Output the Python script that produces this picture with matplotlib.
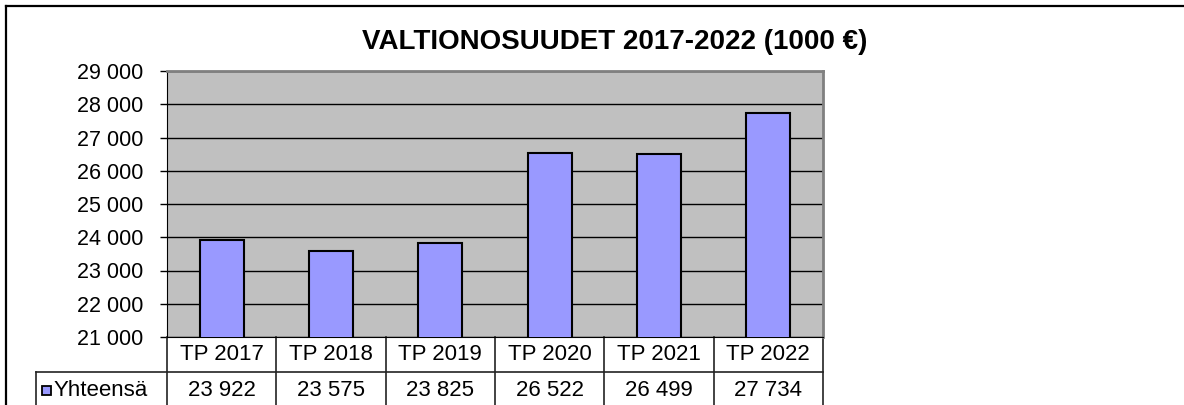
import matplotlib
matplotlib.use("Agg")
import matplotlib.pyplot as plt
from matplotlib.lines import Line2D
from matplotlib.patches import Rectangle
import matplotlib.transforms as mtrans

categories = ["TP 2017", "TP 2018", "TP 2019", "TP 2020", "TP 2021", "TP 2022"]
values = [23922, 23575, 23825, 26522, 26499, 27734]
value_labels = ["23 922", "23 575", "23 825", "26 522", "26 499", "27 734"]
series_name = "Yhteensä"
title = "VALTIONOSUUDET 2017-2022 (1000 €)"
yticks = [21000, 22000, 23000, 24000, 25000, 26000, 27000, 28000, 29000]

plt.rcParams['font.family'] = ['Liberation Sans', 'DejaVu Sans']

W, H = 1184, 405
fig = plt.figure(figsize=(W / 100, H / 100), dpi=100)
fig.patch.set_facecolor("white")

# outer frame (top and left visible)
fig.add_artist(Line2D([6 / W, 1.0], [1 - 6 / H, 1 - 6 / H], color="black", lw=1.6, transform=fig.transFigure))
fig.add_artist(Line2D([6 / W, 6 / W], [0, 1 - 6 / H], color="black", lw=1.6, transform=fig.transFigure))

x0, x1, ytop, ybot = 167, 823, 71, 337
ax = fig.add_axes([x0 / W, (H - ybot) / H, (x1 - x0) / W, (ybot - ytop) / H])
ax.set_facecolor("#C0C0C0")

xs = list(range(len(categories)))
ax.bar(xs, values, width=0.4, color="#9999FF", edgecolor="black", linewidth=1.5, zorder=3)
ax.set_xlim(-0.5, len(categories) - 0.5)
ax.set_ylim(21000, 29000)
ax.set_yticks(yticks)
ax.set_yticklabels([f"{t:,}".replace(",", " ") for t in yticks], fontsize=15.5)
ax.tick_params(axis="y", direction="out", length=5, width=1, pad=12, color="black")
ax.set_xticks([])
ax.yaxis.grid(True, color="black", lw=1)
ax.set_axisbelow(True)
for s in ["top", "right"]:
    ax.spines[s].set_color("#808080")
    ax.spines[s].set_linewidth(2)
ax.spines["left"].set_color("black")
ax.spines["bottom"].set_color("black")

ax_h = ybot - ytop
r1 = 35 / ax_h
r2 = 72 / ax_h
blend = mtrans.blended_transform_factory(ax.transData, ax.transAxes)
lc = "#222222"

# row 1 : category labels
for i, c in enumerate(categories):
    ax.text(i, -r1 / 2, c, transform=blend, ha="center", va="center", fontsize=16, clip_on=False)
for b in [i - 0.5 for i in range(len(categories) + 1)]:
    ax.add_line(Line2D([b, b], [0, -r2], transform=blend, color=lc, lw=1.2, clip_on=False))

# row 2 : values
left_px = 36
left_ax = (left_px - x0) / (x1 - x0)
ax.add_line(Line2D([left_ax, 1.0], [-r1, -r1], transform=ax.transAxes, color=lc, lw=1.2, clip_on=False))
ax.add_line(Line2D([left_ax, left_ax], [-r1, -r2], transform=ax.transAxes, color=lc, lw=1.2, clip_on=False))
for i, v in enumerate(value_labels):
    ax.text(i, -(r1 + 18 / ax_h), v, transform=blend, ha="center", va="center", fontsize=16, clip_on=False)

# legend key
ax_w = x1 - x0
sq_x = (42 - x0) / ax_w
sq_y = -(r1 + 23 / ax_h)
ax.add_patch(Rectangle((sq_x, sq_y), 9 / ax_w, 9 / ax_h, transform=ax.transAxes,
                       facecolor="#9999FF", edgecolor="black", lw=1.3, clip_on=False))
ax.text((54 - x0) / ax_w, -(r1 + 18 / ax_h), series_name, transform=ax.transAxes,
        ha="left", va="center", fontsize=16, clip_on=False)

fig.text(615 / W, 1 - 42 / H, title, ha="center", va="center", fontsize=20, fontweight="bold")

fig.savefig("out.png", dpi=100)
